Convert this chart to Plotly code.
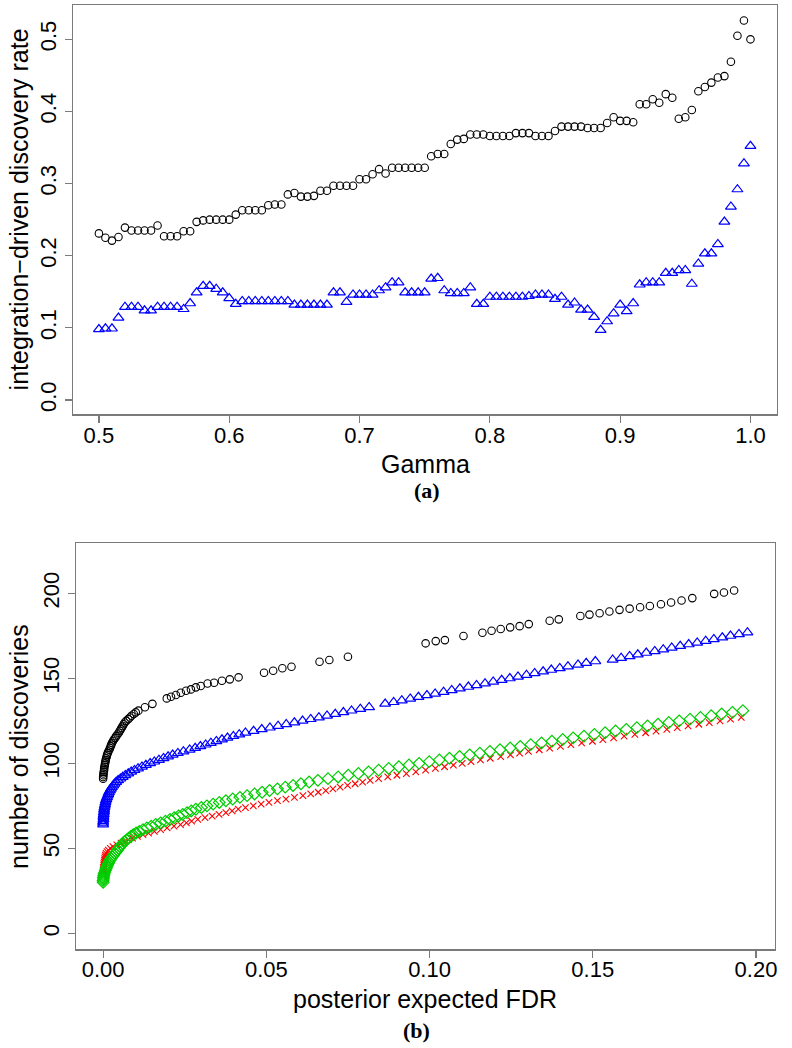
import plotly.graph_objects as go

# ---------------- Panel (a) data ----------------
gamma = [0.500, 0.505, 0.510, 0.515, 0.520, 0.525, 0.530, 0.535, 0.540, 0.545,
         0.550, 0.555, 0.560, 0.565, 0.570, 0.575, 0.580, 0.585, 0.590, 0.595,
         0.600, 0.605, 0.610, 0.615, 0.620, 0.625, 0.630, 0.635, 0.640, 0.645,
         0.650, 0.655, 0.660, 0.665, 0.670, 0.675, 0.680, 0.685, 0.690, 0.695,
         0.700, 0.705, 0.710, 0.715, 0.720, 0.725, 0.730, 0.735, 0.740, 0.745,
         0.750, 0.755, 0.760, 0.765, 0.770, 0.775, 0.780, 0.785, 0.790, 0.795,
         0.800, 0.805, 0.810, 0.815, 0.820, 0.825, 0.830, 0.835, 0.840, 0.845,
         0.850, 0.855, 0.860, 0.865, 0.870, 0.875, 0.880, 0.885, 0.890, 0.895,
         0.900, 0.905, 0.910, 0.915, 0.920, 0.925, 0.930, 0.935, 0.940, 0.945,
         0.950, 0.955, 0.960, 0.965, 0.970, 0.975, 0.980, 0.985, 0.990, 0.995,
         1.000]

rate_circle = [0.231, 0.225, 0.221, 0.226, 0.239, 0.235, 0.235, 0.235, 0.235, 0.242,
               0.227, 0.227, 0.227, 0.234, 0.234, 0.247, 0.249, 0.250, 0.250, 0.250,
               0.250, 0.257, 0.263, 0.263, 0.263, 0.263, 0.270, 0.271, 0.271, 0.285,
               0.287, 0.282, 0.282, 0.283, 0.290, 0.290, 0.297, 0.297, 0.297, 0.297,
               0.306, 0.306, 0.313, 0.320, 0.314, 0.322, 0.322, 0.322, 0.322, 0.322,
               0.322, 0.338, 0.341, 0.341, 0.355, 0.361, 0.362, 0.368, 0.368, 0.368,
               0.366, 0.366, 0.366, 0.366, 0.370, 0.370, 0.370, 0.366, 0.366, 0.366,
               0.373, 0.379, 0.379, 0.379, 0.379, 0.377, 0.377, 0.377, 0.384, 0.392,
               0.387, 0.387, 0.385, 0.410, 0.410, 0.417, 0.412, 0.424, 0.419, 0.390,
               0.392, 0.402, 0.428, 0.434, 0.440, 0.447, 0.449, 0.469, 0.505, 0.526,
               0.500]

rate_triangle = [0.098, 0.099, 0.099, 0.114, 0.129, 0.129, 0.129, 0.124, 0.124, 0.129,
                 0.129, 0.129, 0.129, 0.126, 0.134, 0.149, 0.158, 0.158, 0.154, 0.149,
                 0.141, 0.133, 0.137, 0.137, 0.137, 0.137, 0.137, 0.137, 0.137, 0.137,
                 0.132, 0.132, 0.132, 0.132, 0.132, 0.132, 0.149, 0.149, 0.136, 0.146,
                 0.146, 0.146, 0.146, 0.152, 0.156, 0.163, 0.163, 0.149, 0.149, 0.149,
                 0.149, 0.168, 0.169, 0.152, 0.148, 0.148, 0.148, 0.156, 0.133, 0.133,
                 0.143, 0.143, 0.143, 0.143, 0.143, 0.143, 0.144, 0.146, 0.146, 0.146,
                 0.140, 0.143, 0.132, 0.135, 0.125, 0.125, 0.115, 0.097, 0.109, 0.120,
                 0.132, 0.123, 0.134, 0.160, 0.163, 0.163, 0.163, 0.176, 0.176, 0.180,
                 0.180, 0.161, 0.189, 0.203, 0.203, 0.216, 0.247, 0.268, 0.292, 0.328,
                 0.352]

# ---------------- Panel (b) data ----------------
fdr_circle = [0.0000, 0.0000, 0.0001, 0.0001, 0.0002, 0.0003, 0.0003, 0.0004, 0.0005, 0.0006,
              0.0007, 0.0008, 0.0009, 0.0011, 0.0012, 0.0014, 0.0016, 0.0019, 0.0021, 0.0023,
              0.0025, 0.0027, 0.0030, 0.0033, 0.0037, 0.0040, 0.0044, 0.0048, 0.0051, 0.0054,
              0.0057, 0.0060, 0.0063, 0.0066, 0.0071, 0.0077, 0.0082, 0.0087, 0.0094, 0.0100,
              0.0108, 0.0128, 0.0151,
              0.0195, 0.0208, 0.0223, 0.0238, 0.0254, 0.0269, 0.0284, 0.0299, 0.0320, 0.0340,
              0.0364, 0.0388, 0.0415, 0.0493, 0.0521, 0.0549, 0.0577, 0.0663, 0.0693, 0.0750,
              0.0988, 0.1019, 0.1047, 0.1104, 0.1162, 0.1190, 0.1218, 0.1247, 0.1276, 0.1304,
              0.1368, 0.1396, 0.1462, 0.1490, 0.1521, 0.1551, 0.1582, 0.1613, 0.1645, 0.1675,
              0.1709, 0.1740, 0.1772, 0.1805, 0.1872, 0.1902, 0.1933]
num_circle = [91, 92, 93, 94, 95, 96, 97, 98, 99, 100,
              101, 102, 103, 104, 105, 106, 107, 108, 109, 110,
              111, 112, 113, 114, 115, 116, 117, 118, 119, 120,
              121, 122, 123, 124, 125, 126, 127, 128, 129, 130,
              131, 133, 135,
              138.2, 139.2, 140.2, 141.5, 142.7, 143.5, 144.7, 145.5, 147.0, 147.4,
              148.6, 149.4, 150.6, 153.3, 154.5, 155.9, 156.8, 159.8, 160.8, 162.7,
              170.6, 171.9, 172.5, 174.9, 176.8, 178.0, 179.0, 180.0, 180.7, 181.9,
              183.9, 184.7, 186.7, 187.5, 188.3, 189.3, 190.3, 191.0, 191.8, 192.6,
              193.6, 194.6, 195.8, 197.2, 199.7, 200.5, 201.7]

fdr_triangle = [0.0000, 0.0000, 0.0000, 0.0001, 0.0001, 0.0001, 0.0002, 0.0002, 0.0003, 0.0003,
                0.0004, 0.0005, 0.0006, 0.0007, 0.0008, 0.0010, 0.0012, 0.0014, 0.0016, 0.0018,
                0.0021, 0.0024, 0.0027, 0.0031, 0.0035, 0.0040, 0.0046, 0.0053, 0.0060, 0.0068,
                0.0077, 0.0086, 0.0096, 0.0107, 0.0119, 0.0131, 0.0144, 0.0157, 0.0171, 0.0185,
                0.0199, 0.0213, 0.0229, 0.0246, 0.0265, 0.0282, 0.0298, 0.0314, 0.0330, 0.0347,
                0.0364, 0.0381, 0.0399, 0.0417, 0.0436, 0.0461, 0.0486, 0.0511, 0.0536, 0.0561,
                0.0586, 0.0611, 0.0636, 0.0661, 0.0686, 0.0711, 0.0736, 0.0761, 0.0788, 0.0815,
                0.0864, 0.0890, 0.0915, 0.0941, 0.0966, 0.0992, 0.1017, 0.1043, 0.1068, 0.1093,
                0.1119, 0.1144, 0.1170, 0.1195, 0.1221, 0.1246, 0.1271, 0.1297, 0.1322, 0.1348,
                0.1373, 0.1399, 0.1424, 0.1455, 0.1480, 0.1508,
                0.1561, 0.1587, 0.1613, 0.1638, 0.1664, 0.1690, 0.1716, 0.1742, 0.1768, 0.1794,
                0.1820, 0.1846, 0.1871, 0.1897, 0.1922, 0.1948, 0.1974]
num_triangle = [64, 65, 66, 67, 68, 69, 70, 71, 72, 73,
                74, 75, 76, 77, 78, 79, 80, 81, 82, 83,
                84, 85, 86, 87, 88, 89, 90, 91, 92, 93,
                94, 95, 96, 97, 98, 99, 100, 101, 102, 103,
                104, 105, 106, 107, 108, 109, 110, 111, 112, 113,
                114, 115, 116, 117, 118, 119, 120, 121, 122, 123,
                124, 125, 126, 127, 128, 129, 130, 131, 132, 133,
                135, 136, 137, 138, 139, 140, 141, 142, 143, 144,
                145, 146, 147, 148, 149, 150, 151, 152, 153, 154,
                155, 156, 157, 158, 159, 160,
                161, 162, 163, 164, 165, 166, 167, 168, 169, 170,
                171, 172, 173, 174, 175, 176, 177]

fdr_cross = [0.0000, 0.0000, 0.0001, 0.0001, 0.0002, 0.0002, 0.0003, 0.0004, 0.0005, 0.0006,
             0.0007, 0.0009, 0.0012, 0.0016, 0.0022, 0.0030, 0.0042, 0.0055, 0.0066, 0.0077,
             0.0090, 0.0105, 0.0122, 0.0139, 0.0157, 0.0176, 0.0196, 0.0217, 0.0237, 0.0255,
             0.0271, 0.0290, 0.0312, 0.0334, 0.0355, 0.0376, 0.0395, 0.0414, 0.0436, 0.0460,
             0.0484, 0.0508, 0.0534, 0.0560, 0.0586, 0.0612, 0.0636, 0.0659, 0.0682, 0.0704,
             0.0726, 0.0749, 0.0772, 0.0795, 0.0818, 0.0844, 0.0872, 0.0900, 0.0929, 0.0958,
             0.0988, 0.1018, 0.1046, 0.1073, 0.1100, 0.1127, 0.1156, 0.1186, 0.1218, 0.1248,
             0.1276, 0.1303, 0.1336, 0.1368, 0.1401, 0.1433, 0.1466, 0.1499, 0.1531, 0.1564,
             0.1596, 0.1629, 0.1662, 0.1694, 0.1727, 0.1759, 0.1792, 0.1825, 0.1857, 0.1890,
             0.1922, 0.1955]
num_cross = [36, 37, 38, 39, 40, 41, 42, 43, 44, 45,
             46, 47, 48, 49, 50, 51, 52, 53, 54, 55,
             56, 57, 58, 59, 60, 61, 62, 63, 64, 65,
             66, 67, 68, 69, 70, 71, 72, 73, 74, 75,
             76, 77, 78, 79, 80, 81, 82, 83, 84, 85,
             86, 87, 88, 89, 90, 91, 92, 93, 94, 95,
             96, 97, 98, 99, 100, 101, 102, 103, 104, 105,
             106, 107, 108, 109, 110, 111, 112, 113, 114, 115,
             116, 117, 118, 119, 120, 121, 122, 123, 124, 125,
             126, 127]

fdr_diamond = [0.0000, 0.0000, 0.0001, 0.0001, 0.0002, 0.0003, 0.0005, 0.0007, 0.0009, 0.0011,
               0.0013, 0.0016, 0.0018, 0.0021, 0.0024, 0.0028, 0.0032, 0.0036, 0.0040, 0.0044,
               0.0048, 0.0052, 0.0056, 0.0060, 0.0066, 0.0072, 0.0078, 0.0085, 0.0092, 0.0101,
               0.0111, 0.0122, 0.0134, 0.0147, 0.0161, 0.0176, 0.0191, 0.0205, 0.0218, 0.0231,
               0.0244, 0.0257, 0.0270, 0.0284, 0.0301, 0.0318, 0.0337, 0.0356, 0.0376, 0.0397,
               0.0419, 0.0441, 0.0464, 0.0487, 0.0510, 0.0534, 0.0558, 0.0582, 0.0606, 0.0631,
               0.0658, 0.0689, 0.0720, 0.0751, 0.0782, 0.0813, 0.0844, 0.0875, 0.0906, 0.0937,
               0.0968, 0.0999, 0.1030, 0.1061, 0.1092, 0.1123, 0.1154, 0.1185, 0.1216, 0.1247,
               0.1278, 0.1310, 0.1343, 0.1375, 0.1408, 0.1440, 0.1473, 0.1505, 0.1538, 0.1570,
               0.1603, 0.1635, 0.1668, 0.1700, 0.1733, 0.1765, 0.1798, 0.1830, 0.1863, 0.1895,
               0.1928, 0.1960]
num_diamond = [30, 31, 32, 33, 34, 35, 36, 37, 38, 39,
               40, 41, 42, 43, 44, 45, 46, 47, 48, 49,
               50, 51, 52, 53, 54, 55, 56, 57, 58, 59,
               60, 61, 62, 63, 64, 65, 66, 67, 68, 69,
               70, 71, 72, 73, 74, 75, 76, 77, 78, 79,
               80, 81, 82, 83, 84, 85, 86, 87, 88, 89,
               90, 91, 92, 93, 94, 95, 96, 97, 98, 99,
               100, 101, 102, 103, 104, 105, 106, 107, 108, 109,
               110, 111, 112, 113, 114, 115, 116, 117, 118, 119,
               120, 121, 122, 123, 124, 125, 126, 127, 128, 129,
               130, 131]

xticks_a = [0.5, 0.6, 0.7, 0.8, 0.9, 1.0]
yticks_a = [0.0, 0.1, 0.2, 0.3, 0.4, 0.5]
xticks_b = [0.00, 0.05, 0.10, 0.15, 0.20]
yticks_b = [0, 50, 100, 150, 200]

# ---------------- Figure ----------------
W, H = 792, 1048
def fx(p):
    return p / W
def fy(p):
    return 1 - p / H

SANS = "Liberation Sans, Arial, Helvetica, sans-serif"
SERIF = "Liberation Serif, Times New Roman, serif"
BLACK = "#000000"
BLUE = "#0000FF"
RED = "#FF0000"
GREEN = "#00CD00"

fig = go.Figure()

fig.add_trace(go.Scatter(x=gamma, y=rate_circle, mode="markers", xaxis="x", yaxis="y",
                         marker=dict(symbol="circle-open", size=7.5, color=BLACK, line=dict(width=1.1)),
                         showlegend=False))
fig.add_trace(go.Scatter(x=gamma, y=rate_triangle, mode="markers", xaxis="x", yaxis="y",
                         marker=dict(symbol="triangle-up-open", size=9.5, color=BLUE, line=dict(width=1.2)),
                         showlegend=False))

fig.add_trace(go.Scatter(x=fdr_circle, y=num_circle, mode="markers", xaxis="x2", yaxis="y2",
                         marker=dict(symbol="circle-open", size=7.5, color=BLACK, line=dict(width=1.1)),
                         showlegend=False))
fig.add_trace(go.Scatter(x=fdr_triangle, y=num_triangle, mode="markers", xaxis="x2", yaxis="y2",
                         marker=dict(symbol="triangle-up-open", size=9.5, color=BLUE, line=dict(width=1.2)),
                         showlegend=False))
fig.add_trace(go.Scatter(x=fdr_cross, y=num_cross, mode="markers", xaxis="x2", yaxis="y2",
                         marker=dict(symbol="x-thin-open", size=6.5, color=RED, line=dict(width=1.1, color=RED)),
                         showlegend=False))
fig.add_trace(go.Scatter(x=fdr_diamond, y=num_diamond, mode="markers", xaxis="x2", yaxis="y2",
                         marker=dict(symbol="diamond-open", size=9, color=GREEN, line=dict(width=1.2)),
                         showlegend=False))

axis_common = dict(showline=True, linecolor="#7a7a7a", linewidth=1.2, mirror=True,
                   ticks="outside", ticklen=7, tickwidth=1.2, tickcolor="#7a7a7a",
                   showgrid=False, zeroline=False,
                   tickfont=dict(family=SANS, size=22, color="black"))

fig.update_layout(
    width=W, height=H, autosize=False,
    margin=dict(l=0, r=0, t=0, b=0),
    paper_bgcolor="white", plot_bgcolor="white",
    hovermode=False,
    xaxis=dict(domain=[fx(73), fx(780)], anchor="y", range=[0.4799, 1.0204],
               tickvals=xticks_a, ticktext=[f"{v:.1f}" for v in xticks_a],
               ticklabelstandoff=-6, **axis_common),
    yaxis=dict(domain=[fy(414.3), fy(4.7)], anchor="x", range=[-0.0198, 0.548],
               tickvals=yticks_a, ticktext=[f"{v:.1f}" for v in yticks_a], tickangle=-90,
               **axis_common),
    xaxis2=dict(domain=[fx(76), fx(777.5)], anchor="y2", range=[-0.0084, 0.2057],
                tickvals=xticks_b, ticktext=[f"{v:.2f}" for v in xticks_b],
                ticklabelstandoff=-7, **axis_common),
    yaxis2=dict(domain=[fy(949.3), fy(542.7)], anchor="x2", range=[-9.4, 229.8],
                tickvals=yticks_b, ticktext=[str(v) for v in yticks_b], tickangle=-90,
                **axis_common),
)

annots = [
    dict(text="Gamma", x=fx(427), y=fy(464), font=dict(family=SANS, size=25, color="black")),
    dict(text="<b>(a)</b>", x=fx(429), y=fy(490), font=dict(family=SERIF, size=22, color="black")),
    dict(text="integration\u2212driven discovery rate", x=fx(19), y=fy(209.5), textangle=-90,
         font=dict(family=SANS, size=25, color="black")),
    dict(text="posterior expected FDR", x=fx(427), y=fy(999), font=dict(family=SANS, size=25, color="black")),
    dict(text="<b>(b)</b>", x=fx(418), y=fy(1030), font=dict(family=SERIF, size=22, color="black")),
    dict(text="number of discoveries", x=fx(19), y=fy(746), textangle=-90,
         font=dict(family=SANS, size=25, color="black")),
]
for a in annots:
    fig.add_annotation(xref="paper", yref="paper", showarrow=False,
                       xanchor="center", yanchor="middle", **a)

fig.write_html("out.html",
               config={"displayModeBar": False, "staticPlot": True},
               post_script="document.body.style.margin='0';document.body.style.padding='0';"
                           "document.documentElement.style.overflow='hidden';")
